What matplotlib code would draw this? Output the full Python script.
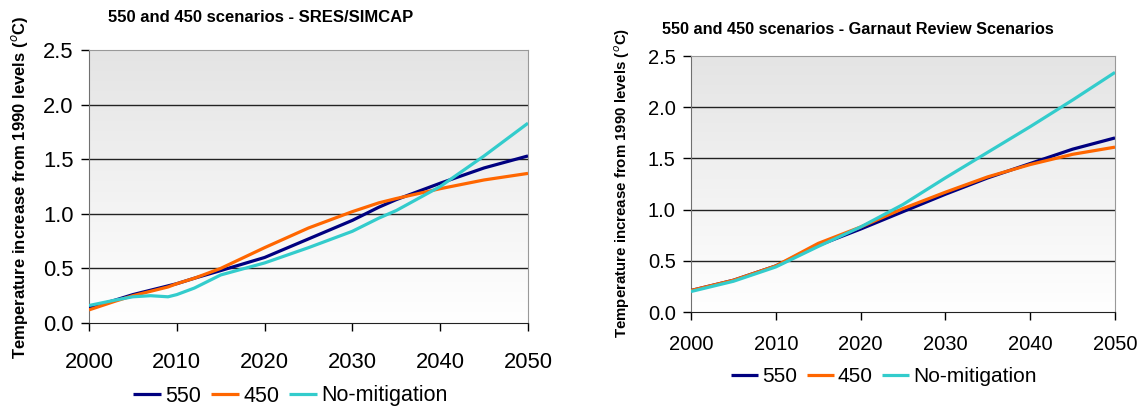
import numpy as np
import matplotlib
matplotlib.use("Agg")
import matplotlib.pyplot as plt
from matplotlib.ticker import FormatStrFormatter

plt.rcParams['font.family'] = ['Liberation Sans', 'DejaVu Sans']

# 左图 SRES/SIMCAP
years_a = [2000, 2003, 2005, 2007, 2009, 2010, 2012, 2015, 2020, 2025, 2030, 2033, 2035, 2040, 2045, 2050]
s550_a = [0.14, 0.21, 0.26, 0.30, 0.34, 0.36, 0.41, 0.48, 0.60, 0.77, 0.94, 1.06, 1.13, 1.28, 1.42, 1.53]
s450_a = [0.12, 0.20, 0.25, 0.29, 0.33, 0.36, 0.41, 0.50, 0.69, 0.87, 1.02, 1.10, 1.14, 1.23, 1.31, 1.37]
nomit_a = [0.16, 0.21, 0.24, 0.25, 0.24, 0.26, 0.32, 0.44, 0.55, 0.69, 0.84, 0.96, 1.03, 1.25, 1.53, 1.83]

# 右图 Garnaut Review
years_b = [2000, 2005, 2010, 2015, 2020, 2025, 2030, 2035, 2040, 2045, 2050]
s550_b = [0.21, 0.31, 0.45, 0.65, 0.81, 0.98, 1.15, 1.31, 1.45, 1.59, 1.70]
s450_b = [0.21, 0.31, 0.45, 0.67, 0.83, 1.01, 1.17, 1.32, 1.44, 1.54, 1.61]
nomit_b = [0.20, 0.30, 0.44, 0.64, 0.83, 1.05, 1.31, 1.56, 1.81, 2.07, 2.34]

labels = ["550", "450", "No-mitigation"]
colors = ["#000080", "#FF6600", "#33CCCC"]
ylab = "Temperature increase from 1990 levels ($^{o}$C)"

W, H = 1146, 408
fig = plt.figure(figsize=(W / 100, H / 100), dpi=100)


def px_axes(x0, x1, ytop, ybot):
    return fig.add_axes([x0 / W, (H - ybot) / H, (x1 - x0) / W, (ybot - ytop) / H])


def draw_panel(ax, years, series, fs, xpad):
    # 灰白渐变背景
    grad = np.linspace(0, 1, 256).reshape(-1, 1)
    cmap = matplotlib.colors.LinearSegmentedColormap.from_list("g", ["#ffffff", "#e4e4e4"])
    ax.imshow(grad, extent=[0, 1, 0, 1], transform=ax.transAxes, cmap=cmap,
              aspect="auto", origin="lower", zorder=0)
    for y in [0.5, 1.0, 1.5, 2.0]:
        ax.axhline(y, color="#222222", lw=1.0, zorder=1)
    handles = []
    for vals, c, lab in zip(series, colors, labels):
        ln, = ax.plot(years, vals, color=c, lw=2.3, label=lab, zorder=3, solid_capstyle="butt")
        handles.append(ln)
    ax.set_xlim(2000, 2050)
    ax.set_ylim(0, 2.5)
    ax.set_xticks(range(2000, 2051, 10))
    ax.set_yticks(np.arange(0, 2.51, 0.5))
    ax.yaxis.set_major_formatter(FormatStrFormatter("%.1f"))
    ax.tick_params(axis="y", direction="out", length=6, width=1, pad=5, labelsize=fs)
    ax.tick_params(axis="x", direction="out", length=6, width=1, pad=xpad, labelsize=fs)
    ax.spines["left"].set_color("#707070")
    ax.spines["bottom"].set_color("#222222")
    ax.spines["top"].set_color("#999999")
    ax.spines["right"].set_color("#999999")
    ax.set_aspect("auto")
    return handles


ax1 = px_axes(89, 528, 50, 323)
h1 = draw_panel(ax1, years_a, [s550_a, s450_a, nomit_a], 15.8, 15)
ax2 = px_axes(691, 1115, 56, 312)
h2 = draw_panel(ax2, years_b, [s550_b, s450_b, nomit_b], 14.5, 10.5)

fig.text(108 / W, 1 - 17 / H, "550 and 450 scenarios - SRES/SIMCAP", fontsize=12,
         fontweight="bold", ha="left", va="center")
fig.text(662 / W, 1 - 29 / H, "550 and 450 scenarios - Garnaut Review Scenarios", fontsize=11.7,
         fontweight="bold", ha="left", va="center")
fig.text(20 / W, 1 - 187 / H, ylab, fontsize=12, fontweight="bold", rotation=90,
         ha="center", va="center")
fig.text(622 / W, 1 - 183 / H, ylab, fontsize=10.8, fontweight="bold", rotation=90,
         ha="center", va="center")

for hs, xa, ya, fs in [(h1, 133, 396, 15.5), (h2, 731, 377, 15)]:
    fig.legend(handles=hs, loc="center left", bbox_to_anchor=(xa / W, 1 - ya / H),
               ncol=3, frameon=False, fontsize=fs, handlelength=1.3, handletextpad=0.2,
               columnspacing=0.45, borderpad=0, borderaxespad=0)

fig.savefig("out.png", dpi=100)
